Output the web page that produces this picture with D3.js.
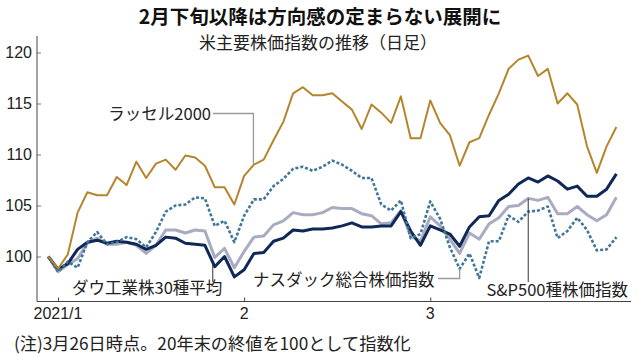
<!DOCTYPE html>
<html><head><meta charset="utf-8">
<script src="https://cdn.jsdelivr.net/npm/d3@7"></script>
<style>
html,body{margin:0;padding:0;background:#fff;}
svg{display:block;}
</style></head>
<body>
<svg id="chart" width="638" height="357"></svg>
<script>
// ---- data ----
const title = "2月下旬以降は方向感の定まらない展開に";
const subtitle = "米主要株価指数の推移（日足）";
const footnote = "(注)3月26日時点。20年末の終値を100として指数化";
const dates = ["2020-12-31",
 "2021-01-04","2021-01-05","2021-01-06","2021-01-07","2021-01-08","2021-01-11","2021-01-12","2021-01-13","2021-01-14","2021-01-15",
 "2021-01-19","2021-01-20","2021-01-21","2021-01-22","2021-01-25","2021-01-26","2021-01-27","2021-01-28","2021-01-29",
 "2021-02-01","2021-02-02","2021-02-03","2021-02-04","2021-02-05","2021-02-08","2021-02-09","2021-02-10","2021-02-11","2021-02-12",
 "2021-02-16","2021-02-17","2021-02-18","2021-02-19","2021-02-22","2021-02-23","2021-02-24","2021-02-25","2021-02-26",
 "2021-03-01","2021-03-02","2021-03-03","2021-03-04","2021-03-05","2021-03-08","2021-03-09","2021-03-10","2021-03-11","2021-03-12",
 "2021-03-15","2021-03-16","2021-03-17","2021-03-18","2021-03-19","2021-03-22","2021-03-23","2021-03-24","2021-03-25","2021-03-26"];
const russell = [100,
 98.8,100.2,104.3,106.3,106.0,106.0,107.8,107.0,109.3,107.7,
 109.1,109.5,108.5,109.9,109.7,108.9,106.8,106.8,105.1,
 107.9,109.0,109.5,111.4,113.2,116.0,116.6,115.8,115.8,116.0,
 115.2,114.4,112.5,114.9,114.1,113.1,115.7,111.6,111.6,
 115.3,113.1,111.9,108.9,111.2,111.6,113.9,116.0,118.4,119.3,
 119.7,117.7,118.4,115.0,116.0,114.9,110.8,108.2,110.8,112.7];
const dow = [100,
 98.75,99.3,100.7,101.4,101.6,101.3,101.5,101.4,101.2,100.7,
 101.1,101.9,101.8,101.3,101.2,101.1,99.0,100.0,98.0,
 98.7,100.3,100.4,101.5,101.8,102.6,102.5,102.7,102.7,102.8,
 103.0,103.3,102.9,102.9,103.0,103.0,104.4,102.5,101.1,
 103.0,102.6,102.2,101.0,102.9,103.9,104.0,105.5,106.1,107.1,
 107.7,107.3,107.9,107.4,106.6,106.9,105.9,105.9,106.6,108.1];
const nasdaq = [100,
 98.5,99.5,98.9,101.4,102.4,101.2,101.4,101.9,101.7,100.9,
 102.4,104.4,105.0,105.1,105.8,105.7,103.0,103.5,101.4,
 104.0,105.6,105.6,106.9,107.6,108.6,108.8,108.4,108.8,109.4,
 109.0,108.4,107.7,107.7,105.1,104.5,105.5,101.8,102.2,
 105.4,103.7,100.9,98.8,100.3,97.9,101.5,101.5,104.0,103.4,
 104.4,104.5,104.9,101.8,102.5,103.8,102.6,100.6,100.7,101.9];
const sp500 = [100,
 98.5,99.2,99.8,101.3,101.8,101.2,101.2,101.4,101.1,100.3,
 101.1,102.6,102.6,102.3,102.6,102.5,99.9,100.8,98.9,
 100.5,101.9,102.0,103.1,103.5,104.3,104.1,104.1,104.3,104.8,
 104.7,104.7,104.2,104.0,103.2,103.3,104.5,102.0,101.5,
 103.9,103.0,101.7,100.3,102.3,101.7,103.2,103.8,104.9,105.0,
 105.7,105.5,105.8,104.2,104.2,104.9,104.1,103.5,104.1,105.8];
const yTicks = [100,105,110,115,120];
const xTickIdx = [1,20,39];
const xTickLabels = ["2021/1","2","3"];
const seriesNames = ["ラッセル2000","ダウ工業株30種平均","ナスダック総合株価指数","S&P500種株価指数"];

// ---- drawing ----
const svg = d3.select("#chart");
const jp = "'Noto Sans CJK JP','Noto Sans',sans-serif";
const num = "'Liberation Sans Narrow','Liberation Sans',Arial,sans-serif";

const x = d3.scaleLinear().domain([0, dates.length-1]).range([48.2, 616.4]);
const y = d3.scaleLinear().domain([100,120]).range([256.5, 52.5]);
const axisBottomY = 301.5, axisLeftX = 37, axisRightX = 631, axisTopY = 36;

// title
svg.append("text").attr("x", 320).attr("y", 24).attr("text-anchor","middle")
  .attr("font-family", jp).attr("font-weight", "bold").attr("font-size", 19.5).attr("fill","#111")
  .text(title);
svg.append("text").attr("x", 318).attr("y", 48.5).attr("text-anchor","middle")
  .attr("font-family", jp).attr("font-size", 17).attr("fill","#222")
  .text(subtitle);

// axes
const yAxis = d3.axisRight(y).tickValues(yTicks).tickSize(4).tickFormat("");
const gy = svg.append("g").attr("transform", `translate(${axisLeftX},0)`).call(yAxis);
gy.select(".domain").remove();
gy.selectAll(".tick line").attr("stroke","#777");
svg.append("line").attr("x1",axisLeftX).attr("x2",axisLeftX).attr("y1",axisTopY).attr("y2",axisBottomY)
  .attr("stroke","#444").attr("stroke-width",1);
svg.selectAll(".ylab").data(yTicks).enter().append("text").attr("class","ylab")
  .attr("x", 32).attr("y", d => y(d) + 5.5).attr("text-anchor","end")
  .attr("font-family", num).attr("font-size", 16).attr("fill","#222")
  .text(d => d);

svg.append("line").attr("x1",axisLeftX).attr("x2",axisRightX).attr("y1",axisBottomY).attr("y2",axisBottomY)
  .attr("stroke","#444").attr("stroke-width",1);
const xAxis = d3.axisTop(x).tickValues(xTickIdx).tickSize(4).tickFormat("");
const gx = svg.append("g").attr("transform", `translate(0,${axisBottomY})`).call(xAxis);
gx.select(".domain").remove();
gx.selectAll(".tick line").attr("stroke","#444");
svg.selectAll(".xlab").data(xTickIdx).enter().append("text").attr("class","xlab")
  .attr("x", d => x(d)).attr("y", 319).attr("text-anchor","middle")
  .attr("font-family", num).attr("font-size", 16).attr("fill","#222")
  .text((d,i) => xTickLabels[i]);

// footnote
svg.append("text").attr("x", 14).attr("y", 349.5)
  .attr("font-family", jp).attr("font-size", 17.2).attr("fill","#222")
  .text(footnote);

// lines
const line = d3.line().x((d,i) => x(i)).y(d => y(d)).curve(d3.curveLinear);
const series = [
  {v: sp500, c:"#a9abc0", w:3, dash:null},
  {v: dow, c:"#0f2858", w:3, dash:null},
  {v: nasdaq, c:"#3f7699", w:2.6, dash:"3,2"},
  {v: russell, c:"#b5852c", w:2, dash:null}
];
series.forEach(s => {
  svg.append("path").datum(s.v).attr("d", line).attr("fill","none")
    .attr("stroke", s.c).attr("stroke-width", s.w)
    .attr("stroke-linejoin","round")
    .attr("stroke-dasharray", s.dash);
});

// labels with leaders
const lab = (t, xx, yy, anchor) => svg.append("text").attr("x", xx).attr("y", yy)
  .attr("text-anchor", anchor).attr("font-family", jp).attr("font-size", 16.5).attr("fill","#222").text(t);

// Russell
const rI = 21;
lab(seriesNames[0], 211, 119.5, "end");
svg.append("path").attr("d", `M213,113.5H${x(rI)-0.5}V${y(russell[rI])}`)
  .attr("fill","none").attr("stroke","#9a9a9a").attr("stroke-width",1.3);
// Dow
const dI = 16.8;
lab(seriesNames[1], 72, 294, "start");
svg.append("path").attr("d", `M${x(dI)},${y(99.2)}V282`)
  .attr("fill","none").attr("stroke","#333").attr("stroke-width",1);
// Nasdaq
const nI = 42;
lab(seriesNames[2], 253, 285.5, "start");
svg.append("path").attr("d", `M438,278.5H${x(nI)}V${y(nasdaq[nI])}`)
  .attr("fill","none").attr("stroke","#9a9a9a").attr("stroke-width",1.3);
// S&P
const sI = 49;
lab(seriesNames[3], 628, 296, "end");
svg.append("path").attr("d", `M${x(sI)},${y(sp500[sI])}V282`)
  .attr("fill","none").attr("stroke","#333").attr("stroke-width",1);
</script>
</body></html>
